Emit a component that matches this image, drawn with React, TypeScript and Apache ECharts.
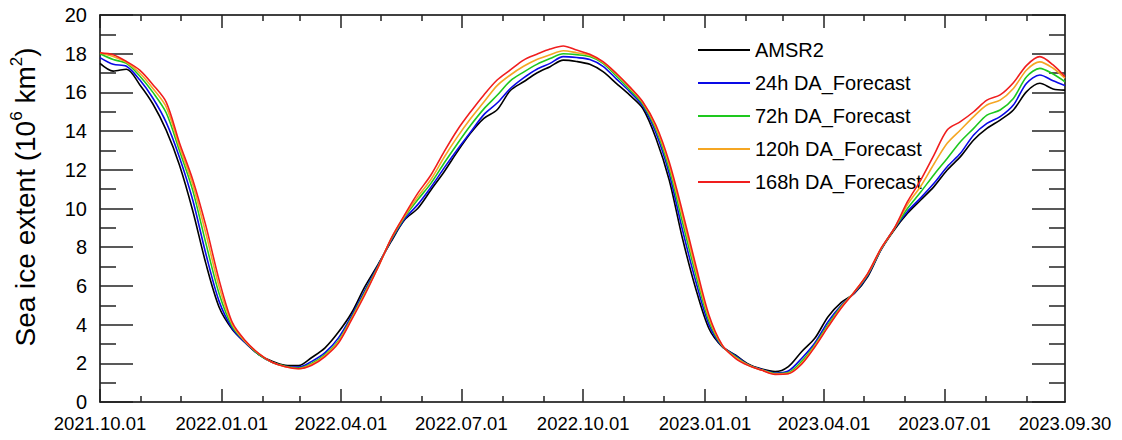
import React, { useEffect, useRef } from 'react';
import * as echarts from 'echarts';

const FONT = 'Liberation Sans, Arial, Helvetica, sans-serif';

// x-axis: daily categories from 2021.10.01 (730 days, to 2023.09.30)
const startYear = 2021;
const startMonth = 10;
const startDay = 1;
const dayCount = 730;
const majorTickMonthDays = ['01.01', '04.01', '07.01', '10.01'];

const yTicksMin = 0;
const yTicksMax = 20;
const yTickStep = 2;

const seriesNames = ['AMSR2', '24h DA_Forecast', '72h DA_Forecast', '120h DA_Forecast', '168h DA_Forecast'];
const seriesColors = ['#000000', '#0a0ae6', '#1ec81e', '#f5a623', '#f01e1e'];

// sampled dates (every 10 days)
const sampleDates = [
  '2021.10.01', '2021.10.11', '2021.10.21', '2021.10.31', '2021.11.10', '2021.11.20', '2021.11.30', '2021.12.10', '2021.12.20', '2021.12.30',
  '2022.01.09', '2022.01.19', '2022.01.29', '2022.02.08', '2022.02.18', '2022.02.28', '2022.03.10', '2022.03.20', '2022.03.30', '2022.04.09',
  '2022.04.19', '2022.04.29', '2022.05.09', '2022.05.19', '2022.05.29', '2022.06.08', '2022.06.18', '2022.06.28', '2022.07.08', '2022.07.18',
  '2022.07.28', '2022.08.07', '2022.08.17', '2022.08.27', '2022.09.06', '2022.09.16', '2022.09.26', '2022.10.06', '2022.10.16', '2022.10.26',
  '2022.11.05', '2022.11.15', '2022.11.25', '2022.12.05', '2022.12.15', '2022.12.25', '2023.01.04', '2023.01.14', '2023.01.24', '2023.02.03',
  '2023.02.13', '2023.02.23', '2023.03.05', '2023.03.15', '2023.03.25', '2023.04.04', '2023.04.14', '2023.04.24', '2023.05.04', '2023.05.14',
  '2023.05.24', '2023.06.03', '2023.06.13', '2023.06.23', '2023.07.03', '2023.07.13', '2023.07.23', '2023.08.02', '2023.08.12', '2023.08.22',
  '2023.09.01', '2023.09.11', '2023.09.21', '2023.09.30',
];

const amsr2 = [
  17.5, 17.1, 17.2, 16.4, 15.4, 14.05, 12.25, 9.9, 7.15, 4.9,
  3.75, 3.05, 2.45, 2.1, 1.9, 1.88, 2.3, 2.8, 3.6, 4.6,
  5.95, 7.1, 8.3, 9.4, 10.0, 10.96, 11.9, 12.94, 13.9, 14.66,
  15.1, 16.1, 16.55, 17.0, 17.33, 17.67, 17.6, 17.45, 17.07, 16.47,
  15.87, 15.18, 13.63, 11.47, 8.46, 5.87, 3.8, 2.86, 2.43, 1.95,
  1.7, 1.57, 1.83, 2.6, 3.29, 4.41, 5.15, 5.62, 6.48, 7.86,
  8.89, 9.75, 10.44, 11.13, 11.99, 12.68, 13.54, 14.14, 14.57, 15.09,
  16.04, 16.47, 16.18, 16.12,
];

const fc24h = [
  17.8, 17.45, 17.35, 16.65, 15.7, 14.45, 12.65, 10.45, 7.65, 5.2,
  3.8, 3.05, 2.45, 2.05, 1.85, 1.8, 2.1, 2.55, 3.3, 4.45,
  5.75, 7.05, 8.35, 9.45, 10.2, 11.1, 12.1, 13.05, 13.95, 14.85,
  15.45, 16.2, 16.75, 17.2, 17.5, 17.85, 17.8, 17.7, 17.35, 16.7,
  16.05, 15.3, 13.9, 11.8, 8.9, 6.25, 4.0, 2.88, 2.4, 1.92,
  1.68, 1.5, 1.6, 2.25, 3.05, 4.15, 5.0, 5.65, 6.55, 7.88,
  8.95, 9.85, 10.55, 11.3, 12.16, 12.85, 13.8, 14.4, 14.75, 15.35,
  16.47, 16.9, 16.6, 16.35,
];

const fc72h = [
  18.0, 17.7, 17.5, 16.85, 16.0, 14.95, 13.0, 10.95, 8.2, 5.6,
  3.9, 3.1, 2.45, 2.05, 1.85, 1.75, 2.0, 2.45, 3.15, 4.35,
  5.65, 7.0, 8.4, 9.55, 10.45, 11.3, 12.35, 13.35, 14.3, 15.15,
  15.85, 16.6, 17.05, 17.45, 17.75, 18.0, 17.95, 17.85, 17.5, 16.85,
  16.15, 15.4, 14.1, 12.05, 9.3, 6.6, 4.2, 2.9, 2.35, 1.9,
  1.66, 1.47, 1.52, 2.1, 2.95, 4.0, 4.95, 5.68, 6.6, 7.9,
  8.95, 10.0, 10.85, 11.75, 12.59, 13.45, 14.14, 14.83, 15.09, 15.69,
  16.81, 17.24, 16.95, 16.55,
];

const fc120h = [
  18.05, 17.85, 17.55, 17.0, 16.2, 15.25, 13.2, 11.25, 8.7, 5.95,
  4.0, 3.1, 2.5, 2.05, 1.82, 1.72, 1.95, 2.4, 3.1, 4.3,
  5.6, 6.95, 8.45, 9.6, 10.6, 11.5, 12.65, 13.7, 14.65, 15.5,
  16.35, 16.9, 17.35, 17.7, 17.95, 18.15, 18.05, 17.92, 17.55, 16.95,
  16.25, 15.48, 14.2, 12.25, 9.6, 6.85, 4.35, 2.92, 2.3, 1.9,
  1.65, 1.45, 1.48, 2.0, 2.9, 3.92, 4.9, 5.7, 6.62, 7.92,
  8.96, 10.2, 11.15, 12.3, 13.37, 14.06, 14.75, 15.35, 15.6, 16.2,
  17.16, 17.58, 17.25, 16.73,
];

const fc168h = [
  18.05, 17.95, 17.6, 17.15, 16.4, 15.5, 13.4, 11.5, 9.1, 6.3,
  4.1, 3.15, 2.5, 2.05, 1.82, 1.72, 1.9, 2.35, 3.03, 4.24,
  5.53, 6.95, 8.46, 9.66, 10.78, 11.73, 12.94, 14.06, 15.0, 15.87,
  16.64, 17.16, 17.67, 17.97, 18.24, 18.4, 18.19, 17.97, 17.59, 16.99,
  16.3, 15.52, 14.3, 12.4, 9.84, 7.08, 4.5, 2.95, 2.26, 1.88,
  1.64, 1.43, 1.46, 1.95, 2.84, 3.88, 4.86, 5.7, 6.65, 7.94,
  8.97, 10.35, 11.47, 12.76, 14.06, 14.49, 15.0, 15.6, 15.87, 16.5,
  17.4, 17.85, 17.42, 16.81,
];

const seriesValues = [amsr2, fc24h, fc72h, fc120h, fc168h];

function pad(n: number) {
  return n < 10 ? '0' + n : '' + n;
}

function buildCategories(): string[] {
  const out: string[] = [];
  const t0 = Date.UTC(startYear, startMonth - 1, startDay);
  for (let i = 0; i < dayCount; i++) {
    const d = new Date(t0 + i * 86400000);
    out.push(`${d.getUTCFullYear()}.${pad(d.getUTCMonth() + 1)}.${pad(d.getUTCDate())}`);
  }
  return out;
}

export default function App() {
  const ref = useRef<HTMLDivElement>(null);

  useEffect(() => {
    if (!ref.current) return;
    const chart = echarts.init(ref.current, undefined, { renderer: 'svg' });
    const cats = buildCategories();
    const isMajor = (v: string) => majorTickMonthDays.indexOf(v.slice(5)) >= 0;
    const isMinor = (v: string) => v.slice(8) === '01' && !isMajor(v);
    const lastIdx = cats.length - 1;

    const axisLineStyle = { color: '#000', width: 1.5 };
    const tickStyle = { color: '#222', width: 1.5 };

    const xBase = {
      type: 'category',
      data: cats,
      boundaryGap: false,
      splitLine: { show: false },
    };

    const yBase = {
      type: 'value',
      min: yTicksMin,
      max: yTicksMax,
      interval: yTickStep,
      splitLine: { show: false },
      axisLine: { show: true, lineStyle: axisLineStyle },
      axisTick: { show: true, inside: true, length: 33, lineStyle: tickStyle },
      minorTick: { show: true, splitNumber: 2, length: 16, lineStyle: tickStyle },
      minorSplitLine: { show: false },
    };

    const option: any = {
      animation: false,
      backgroundColor: '#fff',
      grid: { left: 100, right: 57, top: 15, bottom: 38, containLabel: false, outerBoundsMode: 'none' },
      legend: {
        orient: 'vertical',
        left: 693,
        top: 35,
        icon: 'rect',
        itemWidth: 52,
        itemHeight: 2,
        itemGap: 13,
        textStyle: { fontSize: 20, color: '#000', fontFamily: FONT, lineHeight: 20 },
        data: seriesNames,
      },
      xAxis: [
        {
          ...xBase,
          position: 'bottom',
          axisLine: { show: true, lineStyle: axisLineStyle },
          axisTick: { show: true, inside: true, length: 13, lineStyle: tickStyle, interval: (i: number, v: string) => isMajor(v) },
          axisLabel: {
            show: true,
            color: '#000',
            fontSize: 18.5,
            fontFamily: FONT,
            margin: 12,
            interval: (i: number, v: string) => isMajor(v) || i === lastIdx,
          },
        },
        {
          ...xBase,
          position: 'bottom',
          axisLine: { show: false },
          axisTick: { show: true, inside: true, length: 6, lineStyle: tickStyle, interval: (i: number, v: string) => isMinor(v) },
          axisLabel: { show: false },
        },
        {
          ...xBase,
          position: 'top',
          axisLine: { show: true, lineStyle: axisLineStyle },
          axisTick: { show: true, inside: true, length: 13, lineStyle: tickStyle, interval: (i: number, v: string) => isMajor(v) },
          axisLabel: { show: false },
        },
        {
          ...xBase,
          position: 'top',
          axisLine: { show: false },
          axisTick: { show: true, inside: true, length: 6, lineStyle: tickStyle, interval: (i: number, v: string) => isMinor(v) },
          axisLabel: { show: false },
        },
      ],
      yAxis: [
        {
          ...yBase,
          position: 'left',
          axisLabel: { show: true, color: '#000', fontSize: 20, fontFamily: FONT, margin: 13 },
        },
        {
          ...yBase,
          position: 'right',
          axisLabel: { show: false },
        },
      ],
      graphic: [
        {
          type: 'text',
          x: 25,
          y: 197,
          rotation: Math.PI / 2,
          style: {
            text: '{m|Sea ice extent (10}{s|6}{m| km}{s|2}{m|)}',
            align: 'center',
            verticalAlign: 'middle',
            fill: '#000',
            rich: {
              m: { fontSize: 28, fontFamily: FONT, fill: '#000', lineHeight: 34 },
              s: { fontSize: 17, fontFamily: FONT, fill: '#000', lineHeight: 22, verticalAlign: 'top' },
            },
          },
        },
      ],
      series: seriesNames.map((name, i) => ({
        type: 'line',
        name,
        xAxisIndex: 0,
        yAxisIndex: 0,
        data: sampleDates.map((d, j) => [d, seriesValues[i][j]]),
        symbol: 'none',
        smooth: 0.3,
        lineStyle: { color: seriesColors[i], width: 1.6 },
        itemStyle: { color: seriesColors[i] },
        z: 2 + i,
      })),
    };

    chart.setOption(option);
    return () => chart.dispose();
  }, []);

  return (
    <div
      ref={ref}
      style={{ position: 'fixed', left: 0, top: 0, width: 1122, height: 440, background: '#fff' }}
    />
  );
}
